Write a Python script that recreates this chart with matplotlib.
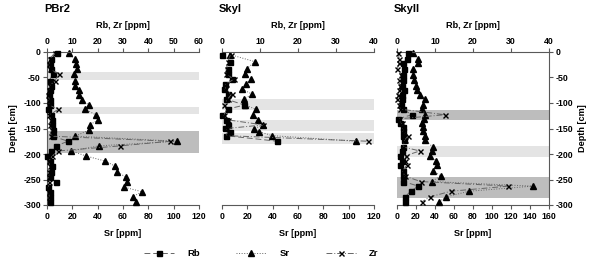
import matplotlib
matplotlib.use("Agg")
import matplotlib.pyplot as plt
from matplotlib.lines import Line2D

plt.rcParams['font.family'] = ['Liberation Sans', 'DejaVu Sans']
plt.rcParams['font.weight'] = 'bold'
plt.rcParams['axes.unicode_minus'] = False

# ---- data (depth in cm, concentrations in ppm) ----
titles = ['PBr2', 'SkyI', 'SkyII']

depth_pbr2 = [-2, -14, -24, -34, -43, -56, -66, -75, -84, -94, -104, -112, -124, -133,
              -143, -153, -165, -175, -184, -194, -204, -214, -224, -235, -245, -255,
              -265, -274, -284, -294]
sr_pbr2 = [17, 22, 23, 24, 21, 22, 22, 25, 25.5, 28, 33, 30, 39, 40, 34, 33.5, 22, 103,
           41, 19, 31, 46, 54, 55.5, 62, 63, 61, 75, 67.5, 70]
rb_pbr2 = [3.8, 1.5, 1.2, 1.5, 2.2, 1.0, 1.5, 1.3, 0.8, 1.2, 1.0, 0.5, 1.5, 1.8, 2.0,
           2.2, 2.2, 8.3, 3.6, 1.5, 0.0, 1.0, 1.8, 1.5, 1.0, 3.5, 0.5, 1.0, 1.2, 1.2]
zr_pbr2 = [3.0, 1.0, 0.8, 1.0, 4.7, 3.2, 1.0, 0.8, 0.5, 0.8, 0.6, 4.5, 0.9, 1.5, 1.2,
           1.8, 1.5, 48.6, 29.0, 4.5, 2.0, 0.8, 1.0, 0.8, 0.6, 0.8, 0.5, 0.6, 0.8, 1.0]

depth_sky1 = [-5, -19, -33, -44, -53, -63, -73, -83, -92, -104, -112, -124, -133, -143,
              -150, -156, -164, -175]
sr_sky1 = [6.3, 26, 19.5, 18, 23, 18.7, 16, 24, 17.6, 18, 26.6, 24.7, 28.7, 32.6, 25.5,
           29, 39.7, 106]
rb_sky1 = [0.1, 2.1, 1.7, 1.5, 2.5, 0.8, 0.6, 1.7, 1.0, 5.9, 1.5, 0.1, 1.0, 1.7, 0.8,
           2.1, 1.0, 14.6]
zr_sky1 = [2.3, 1.5, 1.2, 1.0, 3.2, 1.0, 0.8, 2.5, 1.5, 0.6, 1.2, 0.5, 1.5, 10.9, 1.2,
           1.5, 1.0, 38.5]

depth_sky2 = [-1, -14, -22, -33, -45, -55, -66, -75, -84, -92, -103, -112, -123, -131,
              -140, -148, -155, -164, -173, -186, -194, -203, -213, -222, -233, -243,
              -254, -263, -273, -284, -294]
sr_sky2 = [16.5, 22.5, 22.5, 16.5, 17, 18, 20, 21.4, 24, 29.5, 27.7, 26, 29.5, 28.4, 26,
           27, 27.7, 29, 29.5, 37.6, 36.5, 34.7, 41, 41.8, 38, 46, 36.5, 143, 76, 51.6,
           44.5]
rb_sky2 = [3.0, 2.5, 1.7, 1.8, 1.5, 1.7, 1.2, 1.8, 1.2, 1.2, 1.0, 1.5, 3.9, 0.3, 0.8,
           1.5, 1.7, 1.5, 1.8, 1.7, 1.2, 0.8, 1.2, 0.8, 1.5, 1.7, 1.7, 5.6, 3.6, 2.1, 2.1]
zr_sky2 = [0.3, 0.6, 0.5, 0.1, 1.0, 0.5, 0.8, 0.5, 0.3, 0.0, 0.6, 0.8, 12.6, 0.6, 1.2,
           1.5, 1.5, 3.0, 2.0, 1.5, 6.0, 2.4, 2.0, 2.5, 1.5, 2.0, 6.2, 29.3, 14.2, 8.7, 6.5]

depths = [depth_pbr2, depth_sky1, depth_sky2]
sr_vals = [sr_pbr2, sr_sky1, sr_sky2]
rb_vals = [rb_pbr2, rb_sky1, rb_sky2]
zr_vals = [zr_pbr2, zr_sky1, zr_sky2]

top_max = [60, 40, 40]
top_step = [10, 10, 10]
sr_max = [120, 120, 160]
sr_step = [20, 20, 20]

# shaded horizons: (top, bottom, dark?)
bands = [
    [(-40, -54, False), (-108, -121, False), (-155, -198, True)],
    [(-92, -114, False), (-133, -155, False), (-159, -180, False)],
    [(-114, -133, True), (-184, -206, False), (-245, -286, True)],
]

# ---- figure ----
fig = plt.figure(figsize=(6.01, 2.64), dpi=100)
lefts = [47 / 601, 222 / 601, 397 / 601]
width = 152 / 601
bottom = 1 - 205 / 264
height = 153 / 264

line_c = '0.4'
fs = 6.3

for i in range(3):
    ax = fig.add_axes([lefts[i], bottom, width, height])
    top = ax.twiny()

    for y0, y1, dark in bands[i]:
        ax.axhspan(y1, y0, color='#bdbdbd' if dark else '#e4e4e4', lw=0, zorder=0)

    ax.plot(sr_vals[i], depths[i], linestyle=':', color=line_c, lw=0.7, marker='^',
            ms=3.8, mfc='k', mec='k', clip_on=False, zorder=3)
    top.plot(rb_vals[i], depths[i], linestyle=(0, (6, 3)), color=line_c, lw=0.7,
             marker='s', ms=3.6, mfc='k', mec='k', clip_on=False, zorder=3)
    top.plot(zr_vals[i], depths[i], linestyle=(0, (6, 2, 1, 2)), color=line_c, lw=0.7,
             marker='x', ms=3.6, mew=1.0, mfc='k', mec='k', clip_on=False, zorder=3)

    ax.set_ylim(-300, 0)
    ax.set_xlim(0, sr_max[i])
    top.set_xlim(0, top_max[i])
    ax.set_xticks(range(0, sr_max[i] + 1, sr_step[i]))
    top.set_xticks(range(0, top_max[i] + 1, top_step[i]))

    for s in top.spines.values():
        s.set_visible(False)
    top.spines['top'].set_visible(True)
    ax.spines['top'].set_visible(False)
    for s in ('left', 'right'):
        ax.spines[s].set_visible(False)
    for s in list(ax.spines.values()) + list(top.spines.values()):
        s.set_linewidth(0.8)
        s.set_color('0.35')

    ax.tick_params(axis='x', direction='out', length=3, width=0.8, color='0.35',
                   labelsize=fs, pad=2)
    top.tick_params(axis='x', direction='out', length=3, width=0.8, color='0.35',
                    labelsize=fs, pad=1.5)
    ax.set_xlabel('Sr [ppm]', fontsize=fs + 0.3, fontweight='bold', labelpad=6)
    top.set_xlabel('Rb, Zr [ppm]', fontsize=fs + 0.3, fontweight='bold', labelpad=6)

    yt = list(range(-300, 1, 50))
    if i == 0:
        ax.spines['left'].set_visible(True)
        ax.set_yticks(yt)
        ax.tick_params(axis='y', direction='out', length=3, width=0.8, color='0.35',
                       labelsize=fs, pad=1.5)
        ax.set_ylabel('Depth [cm]', fontsize=fs + 0.3, fontweight='bold', labelpad=4)
    elif i == 2:
        ax.spines['right'].set_visible(True)
        ax.yaxis.tick_right()
        ax.yaxis.set_label_position('right')
        ax.set_yticks(yt)
        ax.tick_params(axis='y', direction='out', length=3, width=0.8, color='0.35',
                       labelsize=fs, pad=1.5)
        ax.set_ylabel('Depth [cm]', fontsize=fs + 0.3, fontweight='bold', labelpad=4,
                      rotation=90)
    else:
        ax.tick_params(axis='y', left=False, labelleft=False)

    fig.text(lefts[i] - 3 / 601, 1 - 9 / 264, titles[i], fontsize=8, fontweight='bold',
             ha='left', va='center')

handles = [
    Line2D([], [], linestyle=(0, (6, 3)), color=line_c, lw=0.7, marker='s', ms=3.6,
           mfc='k', mec='k'),
    Line2D([], [], linestyle=':', color=line_c, lw=0.7, marker='^', ms=3.8,
           mfc='k', mec='k'),
    Line2D([], [], linestyle=(0, (6, 2, 1, 2)), color=line_c, lw=0.7, marker='x',
           ms=3.6, mew=1.0, mfc='k', mec='k'),
]
fig.legend(handles, ['Rb', 'Sr', 'Zr'], loc='center', bbox_to_anchor=(0.435, 0.04),
           ncol=3, frameon=False, fontsize=fs + 0.5, handlelength=3.2,
           columnspacing=3.8, handletextpad=1.4)

fig.savefig('out.png', dpi=100)
